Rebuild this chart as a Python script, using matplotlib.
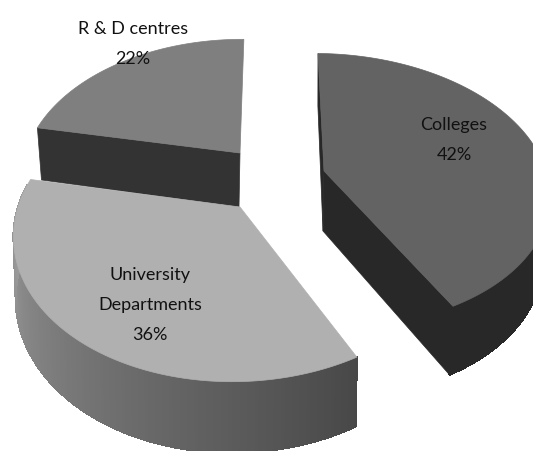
import numpy as np
import matplotlib
matplotlib.use('Agg')
import matplotlib.pyplot as plt
from matplotlib.colors import to_rgb
from matplotlib.patches import Polygon
from matplotlib.collections import PolyCollection

labels = ['Colleges', 'University\nDepartments', 'R & D centres']
shares = [42, 36, 22]

# look of each slice, same order as shares
apex = [(324, 172), (240, 208), (240, 154)]
size_x = [222, 222, 214]
size_y = [134, 145, 133]
persp = [0.14, 0.17, 0.17]
skew = [-0.08, 0.046, 0.02]
turn = [1, 0.5, 0.5]
depth = [60, 59, 54]
lean = [-0.03, -0.01, -0.02]
cuts = [[0, -1], [], [0]]
face_col = ['#636363', '#b0b0b0', '#7f7f7f']
wall_from = ['#282828', '#484848', '#333333']
wall_to = ['#282828', '#a2a2a2', '#333333']
text_pos = [(454, 140), (150, 305), (133, 44)]

fig = plt.figure(figsize=(5.33, 4.52), dpi=100)
ax = fig.add_axes([0, 0, 1, 1])
ax.set_xlim(0, 533)
ax.set_ylim(452, 0)
ax.axis('off')


def project(i, ang, drop=False):
    x = np.sin(np.radians(ang))
    y = np.cos(np.radians(ang))
    den = 1 + persp[i] * y
    u = size_x[i] * x / den
    v = size_y[i] * y / den
    px = apex[i][0] + u + skew[i] * v
    py = apex[i][1] - v
    if drop:
        px = px + lean[i] * u
        py = py + depth[i] / den
    return px, py


edges = np.cumsum([0] + shares) * 3.6
for i in [2, 0, 1]:
    ang = np.linspace(edges[i], edges[i + 1], 160) + turn[i]
    x0, y0 = project(i, ang)
    x1, y1 = project(i, ang, True)
    ax0, ay0 = apex[i]
    ay1 = ay0 + depth[i]

    # flat walls along the cuts that can be seen
    for a in cuts[i]:
        ax.add_patch(Polygon([(ax0, ay0), (x0[a], y0[a]), (x1[a], y1[a]), (ax0 - 1, ay1)],
                             fc=wall_from[i], ec=wall_from[i], lw=0.5))

    # rim, shaded from one end to the other, only the front part shows
    quads = []
    cols = []
    c0 = np.array(to_rgb(wall_from[i]))
    c1 = np.array(to_rgb(wall_to[i]))
    for j in range(len(ang) - 1):
        if np.cos(np.radians(ang[j])) < 0.15:
            quads.append([(x0[j], y0[j]), (x0[j + 1], y0[j + 1]), (x1[j + 1], y1[j + 1]), (x1[j], y1[j])])
            cols.append(c0 + (c1 - c0) * j / (len(ang) - 2))
    if quads:
        ax.add_collection(PolyCollection(quads, facecolors=cols, edgecolors=cols, linewidths=0.8, antialiaseds=False))

    pts = [(ax0, ay0)] + list(zip(x0, y0))
    ax.add_patch(Polygon(pts, fc=face_col[i], ec=face_col[i], lw=0.5))

for i in range(3):
    ax.text(text_pos[i][0], text_pos[i][1], '%s\n%d%%' % (labels[i], shares[i]),
            ha='center', va='center', fontsize=13, color='#111111', linespacing=2.05,
            family=['Lato', 'DejaVu Sans'])

fig.savefig('out.png', dpi=100)
